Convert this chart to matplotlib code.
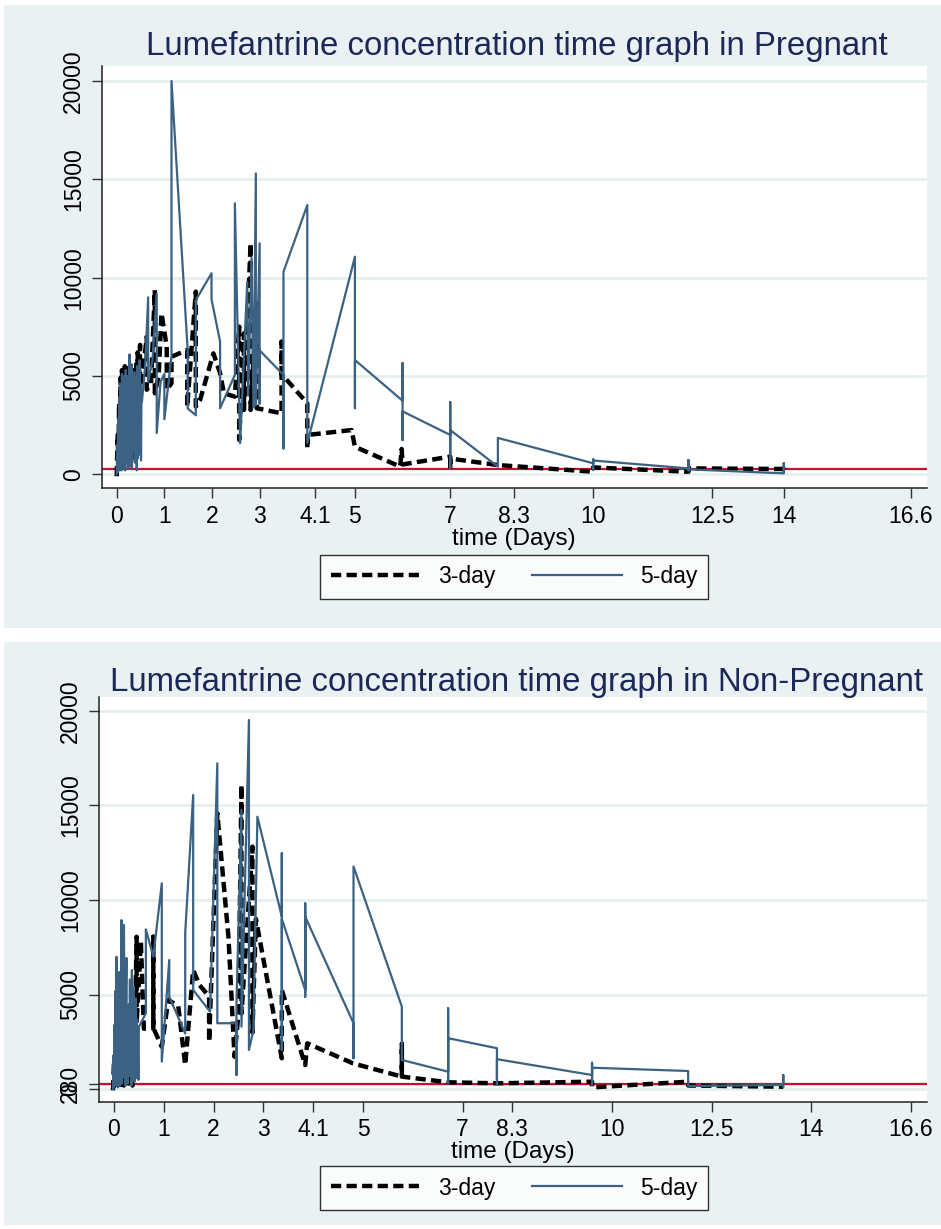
import numpy as np
import matplotlib
matplotlib.use('Agg')
import matplotlib.pyplot as plt
from matplotlib.patches import Rectangle

plt.rcParams['font.family'] = ['Liberation Sans', 'DejaVu Sans']

# ---- data (time in days, concentration in ng/ml) ----
# pregnant, 3-day regimen
t3_preg = [0.00, 0.02, 0.035, 0.05, 0.065, 0.08, 0.095, 0.11, 0.125, 0.14, 0.155, 0.17, 0.185,
           0.20, 0.215, 0.23, 0.245, 0.26, 0.275, 0.29, 0.305, 0.32, 0.335, 0.35, 0.365, 0.38,
           0.395, 0.41, 0.425, 0.44, 0.455, 0.47, 0.49, 0.49, 0.56, 0.63, 0.63, 0.72,
           0.80, 0.80, 0.88, 0.94, 1.05, 1.05, 1.15, 1.15, 1.48, 1.48, 1.66, 1.66, 1.75, 2.03,
           2.17, 2.25, 2.48, 2.57, 2.57, 2.67, 2.67, 2.81, 2.81, 2.94, 2.94, 3.46, 3.46, 3.46,
           4.0, 4.0, 4.0, 4.93, 5.0, 5.95, 5.98, 6.0, 7.0, 7.0, 7.0, 8.0, 10.0, 10.0, 12.0,
           12.0, 14.0, 14.0]
c3_preg = [-100, 2000, 300, 3600, 600, 4900, 400, 5300, 1200, 4600, 500, 5500, 1600,
           4900, 800, 5400, 2200, 4200, 600, 5100, 1000, 4800, 2500, 5300, 1500, 4300,
           800, 5600, 2000, 6200, 1200, 5000, 6580, 4100, 5400, 7000, 4300, 4600,
           9370, 4120, 5000, 8190, 6490, 4290, 4630, 5980, 6320, 3440, 9290, 3440, 3780, 6150,
           5140, 4120, 3950, 7510, 1750, 7170, 3270, 11750, 3270, 8700, 3360, 3100, 6740, 5100,
           3610, 1320, 2000, 2250, 1400, 390, 1290, 500, 900, 270, 800, 470, 130, 350, 130,
           300, 270, 200]

# pregnant, 5-day regimen
t5_preg = [0.00, 0.01, 0.02, 0.03, 0.04, 0.05, 0.06, 0.07, 0.08, 0.09,
           0.10, 0.11, 0.12, 0.13, 0.14, 0.15, 0.16, 0.17, 0.18, 0.19,
           0.20, 0.21, 0.22, 0.23, 0.24, 0.25, 0.26, 0.27, 0.28, 0.29,
           0.30, 0.31, 0.32, 0.33, 0.34, 0.35, 0.36, 0.37, 0.38, 0.39,
           0.40, 0.41, 0.42, 0.43, 0.44, 0.45, 0.46, 0.47, 0.48, 0.49,
           0.50, 0.51, 0.52, 0.53,
           0.60, 0.66, 0.66, 0.75, 0.84, 0.84, 0.92, 1.0, 1.0, 1.15, 1.15, 1.49, 1.49, 1.66,
           1.66, 1.99, 1.99, 2.17, 2.17, 2.48, 2.48, 2.59, 2.74, 2.76, 2.83, 2.87, 2.92, 2.92,
           3.0, 3.0, 3.0, 3.5, 3.5, 3.5, 4.0, 4.0, 5.0, 5.0, 5.0, 6.0, 6.0, 6.0, 6.0, 7.0, 7.0,
           7.0, 7.0, 8.0, 8.0, 10.0, 10.0, 10.0, 10.0, 12.0, 12.0, 12.0, 12.0, 14.0, 14.0, 14.0]
c5_preg = [0, 1500, 100, 2800, 300, 3900, 200, 4600, 700, 3300,
           200, 5100, 900, 4400, 300, 5000, 1400, 3800, 200, 5300,
           600, 4700, 1800, 3600, 300, 5000, 900, 6100, 400, 4300,
           1600, 5600, 300, 4800, 1200, 3700, 2500, 5200, 600, 4900,
           1100, 4100, 200, 5500, 800, 3000, 4500, 1000, 5800, 2400,
           4600, 700, 4200, 3700,
           5600, 9000, 4700, 5800, 9200, 2100, 4700, 5100, 2800, 6000, 20000, 6300, 3350, 3000,
           8860, 10220, 8900, 6740, 3360, 5050, 13780, 1580, 9790, 4000, 11000, 3400, 15300, 3500,
           11750, 3600, 6300, 5050, 1320, 10300, 13690, 1580, 11065, 3360, 5810, 3740, 5660, 1740,
           3200, 2000, 3680, 320, 2250, 390, 1850, 560, 760, 220, 700, 300, 730, 200, 250,
           50, 570, 100]

# non-pregnant, 3-day regimen
t3_np = [-0.02, 0.0, 0.02, 0.035, 0.05, 0.065, 0.08, 0.095, 0.11, 0.125, 0.14, 0.155, 0.17,
         0.185, 0.20, 0.215, 0.23, 0.245, 0.26, 0.275, 0.29, 0.31, 0.33, 0.35, 0.37, 0.40,
         0.455, 0.455, 0.54, 0.60, 0.79, 0.79, 0.79, 0.96, 1.09,
         1.29, 1.43, 1.59, 1.72, 1.91, 1.91, 2.075, 2.30, 2.42, 2.50, 2.56, 2.56, 2.78, 2.78,
         2.85, 3.37, 3.37, 3.84, 3.88, 4.8, 5.78, 5.78, 5.78, 6.71, 7.69, 9.6, 9.6, 11.53,
         11.53, 13.44]
c3_np = [-50, 1500, 200, 3200, 100, 4200, 300, 5250, 700, 3600, 100, 4800, 500,
         2600, 200, 4500, 600, 3400, 100, 2900, 300, 2200, 500, 1500, 200, 800,
         8060, 3500, 7800, 3200, 3240, 8060, 3240, 2250, 4720,
         4400, 1280, 6300, 5500, 4900, 2500, 14580, 8000, 1720, 4000, 16080, 4000, 12820, 3000,
         9000, 1640, 5250, 1280, 2430, 1370, 670, 2400, 670, 370, 317, 402, 100, 402,
         200, 137]

# non-pregnant, 5-day regimen
t5_np = [-0.02, -0.01, 0.00, 0.01, 0.02, 0.03, 0.04, 0.05, 0.06, 0.07,
         0.08, 0.09, 0.10, 0.11, 0.12, 0.13, 0.14, 0.15, 0.16, 0.17,
         0.18, 0.19, 0.20, 0.21, 0.22, 0.23, 0.24, 0.25, 0.26, 0.27,
         0.28, 0.29, 0.30, 0.31, 0.32, 0.33, 0.34, 0.35, 0.36, 0.37,
         0.38, 0.39, 0.40, 0.41, 0.42, 0.43, 0.44, 0.45, 0.46, 0.47,
         0.48, 0.49, 0.50,
         0.64, 0.64, 0.79,
         0.96, 0.96, 1.11, 1.11, 1.43, 1.43, 1.59, 1.59, 1.93, 2.075, 2.075, 2.46, 2.46, 2.46,
         2.56, 2.56, 2.71, 2.71, 2.80, 2.88, 3.37, 3.37, 3.37, 3.37, 3.84, 3.84, 3.84, 3.84,
         4.81, 4.81, 4.81, 5.78, 5.78, 6.71, 6.71, 6.71, 6.71, 7.69, 7.69, 7.69, 9.6, 9.6,
         9.6, 9.6, 11.53, 11.53, 13.44, 13.44, 13.44]
c5_np = [0, 1800, 100, 3400, 300, 5200, 200, 7000, 600, 4300,
         100, 5600, 900, 6200, 200, 4800, 1300, 8940, 300, 5000,
         1500, 3800, 8680, 600, 4400, 200, 5200, 6940, 1000, 3900,
         300, 2800, 4500, 700, 5800, 1200, 3600, 200, 6300, 900,
         4100, 2200, 5400, 400, 3000, 1600, 4800, 600, 3700, 1100,
         2600, 500, 3300,
         4010, 8450, 7010,
         10880, 1460, 6830, 4890, 2950, 8240, 15550, 5250, 4100, 17220, 3490, 3490, 755, 4540,
         14755, 3310, 19510, 2080, 3130, 14400, 9120, 12470, 2080, 9000, 5250, 9820, 4890, 9120,
         3490, 1640, 11770, 4370, 1550, 930, 4280, 320, 2700, 2170, 250, 1590, 755, 1405,
         250, 1140, 967, 174, 227, 755, 120]

cutoff = 280
tick_labels = ['0', '1', '2', '3', '4.1', '5', '7', '8.3', '10', '12.5', '14', '16.6']
ticks_preg = [0, 1, 2, 3, 100/24, 5, 7, 200/24, 10, 12.5, 14, 400/24]
ticks_np = [0, 1, 2, 3, 4, 5, 7, 8, 10, 12, 14, 16]

W, H = 941, 1229
panel_bg = '#e9f1f3'
blue = '#3b6282'
navy = '#1c2858'

fig = plt.figure(figsize=(W/100, H/100), dpi=100, facecolor='white')

# grey panel backgrounds (Stata graph region)
fig.add_artist(Rectangle((4/W, 1-628/H), 1-4/W, 623/H, transform=fig.transFigure,
                         facecolor=panel_bg, edgecolor='none', zorder=-10))
fig.add_artist(Rectangle((4/W, 1-1225/H), 1-4/W, 583/H, transform=fig.transFigure,
                         facecolor=panel_bg, edgecolor='none', zorder=-10))


def panel(box, t3, c3, t5, c5, xticks, yticks, ylabels, xlim, ylim):
    ax = fig.add_axes(box)
    ax.set_facecolor('white')
    ax.plot(t3, c3, color='black', lw=3.2, dashes=(2.3, 1.2), solid_capstyle='butt',
            dash_capstyle='butt', label='3-day', zorder=3)
    ax.plot(t5, c5, color=blue, lw=1.6, label='5-day', zorder=4)
    ax.axhline(cutoff, color='#c8102e', lw=1.6, zorder=2)
    ax.set_xlim(xlim)
    ax.set_ylim(ylim)
    ax.set_xticks(xticks)
    ax.set_xticklabels(tick_labels, fontsize=16.5)
    ax.set_yticks(yticks)
    ax.set_yticklabels(ylabels, fontsize=16.5, rotation=90, va='center')
    ax.tick_params(axis='both', direction='out', length=7, width=1.0, color='#333333', pad=5)
    ax.yaxis.grid(True, color='#e4edf0', lw=1.8, zorder=0)
    ax.set_axisbelow(True)
    for s in ['top', 'right']:
        ax.spines[s].set_visible(False)
    for s in ['left', 'bottom']:
        ax.spines[s].set_color('#222222')
        ax.spines[s].set_linewidth(1.1)
    ax.set_xlabel('time (Days)', fontsize=17.5, labelpad=0)
    return ax


ax1 = panel([101.7/W, 1-488.3/H, 825/W, 422.6/H], t3_preg, c3_preg, t5_preg, c5_preg,
            ticks_preg, [0, 5000, 10000, 15000, 20000],
            ['0', '5000', '10000', '15000', '20000'], (-0.315, 17.0), (-712, 20778))
ax2 = panel([98.7/W, 1-1101.7/H, 828/W, 404.7/H], t3_np, c3_np, t5_np, c5_np,
            ticks_np, [0, cutoff, 5000, 10000, 15000, 20000],
            ['0', '280', '5000', '10000', '15000', '20000'], (-0.307, 16.32), (-655, 20724))

fig.text(517/W, 1-46/H, 'Lumefantrine concentration time graph in Pregnant',
         ha='center', va='center', fontsize=23.8, color=navy)
fig.text(517/W, 1-683/H, 'Lumefantrine concentration time graph in Non-Pregnant',
         ha='center', va='center', fontsize=23.8, color=navy)

for ax, yc in [(ax1, 577), (ax2, 1188)]:
    h, l = ax.get_legend_handles_labels()
    leg = fig.legend(h, l, loc='center', bbox_to_anchor=(514/W, 1-yc/H), ncol=2,
                     fontsize=16.5, frameon=True, fancybox=False, handlelength=3.9,
                     handletextpad=0.8, columnspacing=1.6, borderpad=0.45)
    leg.get_frame().set_edgecolor('black')
    leg.get_frame().set_linewidth(1.0)

fig.savefig('out.png', dpi=100, facecolor='white')
